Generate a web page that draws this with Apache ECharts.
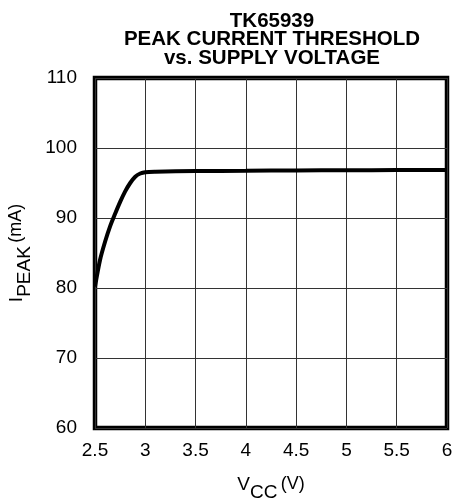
<!DOCTYPE html>
<html>
<head>
<meta charset="utf-8">
<script src="https://cdn.jsdelivr.net/npm/echarts@6/dist/echarts.min.js"></script>
<style>
  html, body { margin: 0; padding: 0; background: #fff; }
  #chart { width: 460px; height: 499px; }
</style>
</head>
<body>
<div id="chart"></div>
<script>
// supply voltage (V) vs peak current threshold (mA)
var vcc = [2.5, 2.55, 2.6, 2.65, 2.7, 2.75, 2.8, 2.85, 2.9, 2.95, 3.0, 3.1, 3.5, 4.0, 4.5, 5.0, 5.5, 6.0];
var ipeak = [80.2, 84, 86.6, 88.8, 90.6, 92.3, 93.8, 95, 95.9, 96.35, 96.55, 96.62, 96.7, 96.75, 96.8, 96.82, 96.85, 96.87];
var xTicks = [2.5, 3, 3.5, 4, 4.5, 5, 5.5, 6];
var yTicks = [60, 70, 80, 90, 100, 110];

var chart = echarts.init(document.getElementById("chart"));
var font = "Liberation Sans, Arial, sans-serif";

var option = {
  animation: false,
  title: {
    text: "TK65939\nPEAK CURRENT THRESHOLD\nvs. SUPPLY VOLTAGE",
    left: 267,
    top: 7,
    textAlign: "center",
    textStyle: {
      fontFamily: font,
      fontWeight: "bold",
      fontSize: 20.5,
      lineHeight: 18.5,
      color: "#000"
    }
  },
  grid: {
    left: 95,
    right: 13,
    top: 78,
    bottom: 71,
    outerBoundsMode: "none",
    containLabel: false,
    show: true,
    borderColor: "#000",
    borderWidth: 4.5
  },
  xAxis: {
    type: "value",
    min: xTicks[0],
    max: xTicks[xTicks.length - 1],
    interval: 0.5,
    name: "{v|V}{s|CC} {u|(V)}",
    nameLocation: "middle",
    nameGap: 47,
    nameTextStyle: {
      rich: {
        v: { fontFamily: font, fontSize: 19, color: "#000", verticalAlign: "top" },
        s: { fontFamily: font, fontSize: 19, color: "#000", padding: [8, 0, 0, 0] },
        u: { fontFamily: font, fontSize: 18, color: "#000", verticalAlign: "top" }
      }
    },
    axisLine: { show: false },
    axisTick: { show: false },
    axisLabel: {
      fontFamily: font,
      fontSize: 19,
      color: "#000",
      margin: 13
    },
    splitLine: { show: true, lineStyle: { color: "#333", width: 1 } }
  },
  yAxis: {
    type: "value",
    min: yTicks[0],
    max: yTicks[yTicks.length - 1],
    interval: 10,
    name: "{v|I}{s|PEAK} {u|(mA)}",
    nameLocation: "middle",
    nameGap: 61,
    nameTextStyle: {
      rich: {
        v: { fontFamily: font, fontSize: 19, color: "#000", verticalAlign: "top" },
        s: { fontFamily: font, fontSize: 19, color: "#000", padding: [8, 0, 0, 0] },
        u: { fontFamily: font, fontSize: 18, color: "#000", verticalAlign: "top" }
      }
    },
    axisLine: { show: false },
    axisTick: { show: false },
    axisLabel: {
      fontFamily: font,
      fontSize: 19,
      color: "#000",
      margin: 18
    },
    splitLine: { show: true, lineStyle: { color: "#333", width: 1 } }
  },
  series: [
    {
      type: "line",
      data: vcc.map(function (v, i) { return [v, ipeak[i]]; }),
      smooth: 0.3,
      showSymbol: false,
      lineStyle: { color: "#000", width: 4 }
    }
  ]
};

chart.setOption(option);
</script>
</body>
</html>
